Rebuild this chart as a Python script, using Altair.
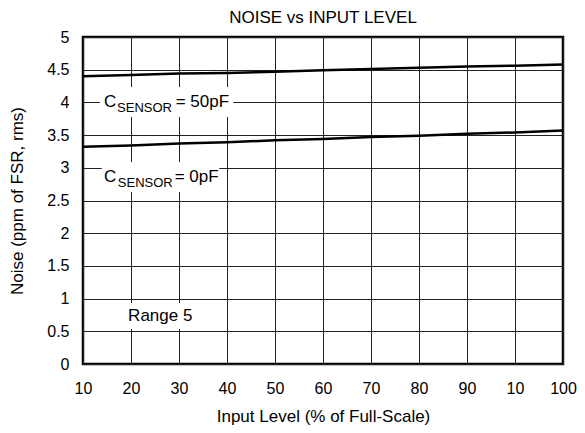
import altair as alt
import pandas as pd

# ---- data ----
x_pos = [0, 10, 20, 30, 40, 50, 60, 70, 80, 90, 100]
x_tick_labels = ["10", "20", "30", "40", "50", "60", "70", "80", "90", "10", "100"]
y_ticks = [0.0, 0.5, 1.0, 1.5, 2.0, 2.5, 3.0, 3.5, 4.0, 4.5, 5.0]
noise_50pf = [4.40, 4.42, 4.44, 4.45, 4.47, 4.49, 4.51, 4.53, 4.55, 4.56, 4.58]
noise_0pf = [3.32, 3.34, 3.37, 3.39, 3.42, 3.44, 3.47, 3.49, 3.52, 3.54, 3.57]

# annotation boxes (white backgrounds behind labels), data coordinates
box_x = [3.5, 3.9, 8.9]
box_x2 = [31.3, 28.4, 24.2]
box_y = [3.777, 2.63, 0.535]
box_y2 = [4.235, 3.089, 0.933]

# main label pieces
main_text = ["C", "= 50pF", "C", "= 0pF", "Range 5"]
main_x = [4.35, 19.3, 4.35, 19.1, 9.4]
main_y = [3.934, 3.934, 2.778, 2.778, 0.662]
# subscripts
sub_text = ["SENSOR", "SENSOR"]
sub_x = [7.1, 7.25]
sub_y = [3.857, 2.711]

FONT = "Liberation Sans"

lines_df = pd.DataFrame({
    "x": x_pos * 2,
    "y": noise_50pf + noise_0pf,
    "series": ["50pF"] * len(x_pos) + ["0pF"] * len(x_pos),
})
box_df = pd.DataFrame({"x": box_x, "x2": box_x2, "y": box_y, "y2": box_y2})
main_df = pd.DataFrame({"t": main_text, "x": main_x, "y": main_y})
sub_df = pd.DataFrame({"t": sub_text, "x": sub_x, "y": sub_y})

label_expr = "[" + ",".join("'%s'" % s for s in x_tick_labels) + "][round(datum.value/10)]"

xscale = alt.Scale(domain=[0, 100], nice=False)
yscale = alt.Scale(domain=[0, 5], nice=False)

xaxis = alt.Axis(values=x_pos, labelExpr=label_expr, title="Input Level (% of Full-Scale)",
                 grid=True, ticks=False, domain=False, labelPadding=16, titlePadding=12,
                 labelFlush=False, labelOverlap=False, tickCount=11)
yaxis = alt.Axis(values=y_ticks, labelExpr="format(datum.value, '~g')",
                 title="Noise (ppm of FSR, rms)",
                 grid=True, ticks=False, domain=False, labelPadding=14, titlePadding=20,
                 labelFlush=False, labelOverlap=False, tickCount=11)

X = alt.X("x:Q", scale=xscale, axis=xaxis)
Y = alt.Y("y:Q", scale=yscale, axis=yaxis)

base_lines = alt.Chart(lines_df).mark_line(color="black", strokeWidth=2.5).encode(
    x=X, y=Y, detail="series:N",
)

boxes = alt.Chart(box_df).mark_rect(color="white").encode(
    x=X, x2="x2:Q", y=Y, y2="y2:Q"
)

main_txt = alt.Chart(main_df).mark_text(
    align="left", baseline="alphabetic", font=FONT, fontSize=17, color="black"
).encode(x=X, y=Y, text="t:N")

sub_txt = alt.Chart(sub_df).mark_text(
    align="left", baseline="alphabetic", font=FONT, fontSize=13, color="black"
).encode(x=X, y=Y, text="t:N")

chart = alt.layer(base_lines, boxes, main_txt, sub_txt).properties(
    width=480, height=327,
    title=alt.TitleParams("NOISE vs INPUT LEVEL", font=FONT, fontSize=17,
                          fontWeight="normal", color="black", offset=2),
    autosize=alt.AutoSizeParams(type="none"),
    padding={"left": 75, "top": 29, "right": 14, "bottom": 61},
).configure_view(
    stroke="black", strokeWidth=2.5
).configure_axis(
    labelFont=FONT, titleFont=FONT, labelFontSize=16, titleFontSize=17,
    labelColor="black", titleColor="black", titleFontWeight="normal",
    gridColor="#222222", gridWidth=1, gridOpacity=1,
)

chart.save("out.html", embed_options={"renderer": "svg", "actions": False})
